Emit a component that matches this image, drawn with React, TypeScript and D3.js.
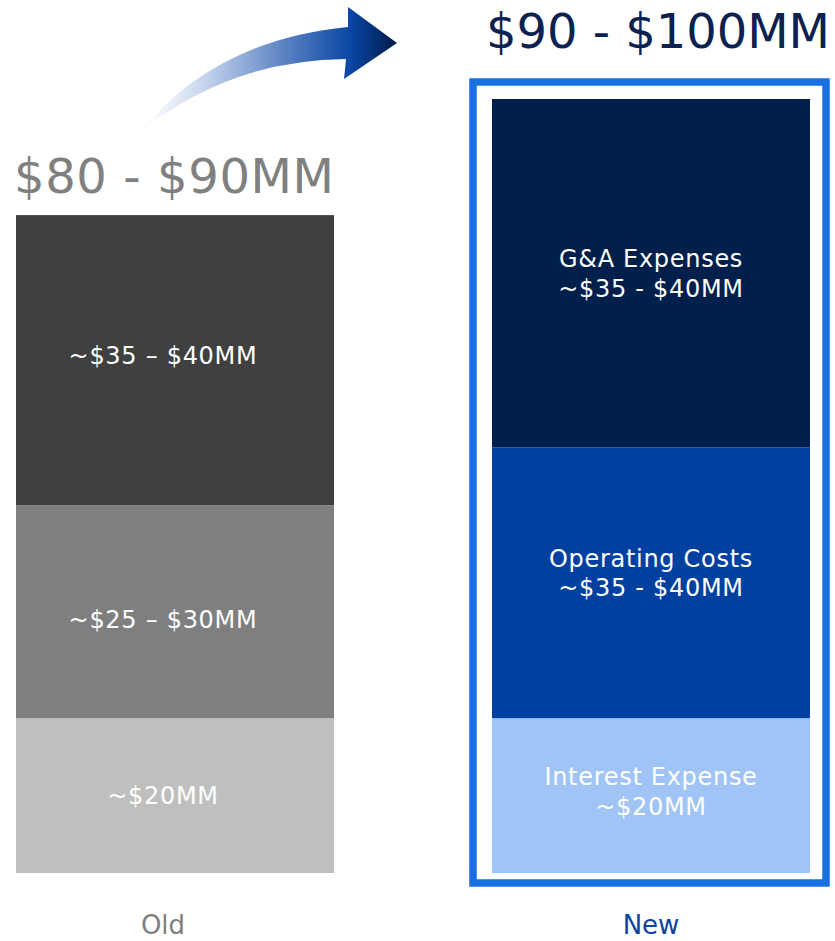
import React from "react";
import * as d3 from "d3";

const categories = ["Old", "New"];
const totalLabels = ["$80 - $90MM", "$90 - $100MM"];
// values stacked bottom -> top ($MM)
const oldValues = [20, 27.5, 37.5];
const newValues = [20, 35, 45];
const oldSegmentLabels = [["~$20MM"], ["~$25 – $30MM"], ["~$35 – $40MM"]];
const newSegmentLabels = [
  ["Interest Expense", "~$20MM"],
  ["Operating Costs", "~$35 - $40MM"],
  ["G&A Expenses", "~$35 - $40MM"],
];
const oldColors = ["#bfbfbf", "#7f7f7f", "#404040"];
const newColors = ["#a0c4f5", "#0041a0", "#001f4b"];

const W = 835;
const H = 941;
const FONT = "'DejaVu Sans', sans-serif";

export default function App() {
  const y = d3.scaleLinear().domain([0, 100]).range([873, 99]);
  const x = d3
    .scaleBand<string>()
    .domain(categories)
    .range([16, 810])
    .paddingInner(158 / 476)
    .paddingOuter(0);
  const bw = x.bandwidth();

  const series = [
    { cat: "Old", values: oldValues, labels: oldSegmentLabels, colors: oldColors, shift: -12, nudge: [0, 8, -4.5] },
    { cat: "New", values: newValues, labels: newSegmentLabels, colors: newColors, shift: 0, nudge: [-4, -10, 0] },
  ];

  const xNew = x("New")!;
  const newTotal = d3.sum(newValues);
  const oldTotal = d3.sum(oldValues);

  return (
    <svg
      width={W}
      height={H}
      style={{ position: "absolute", left: 0, top: 0, background: "#fff" }}
      fontFamily={FONT}
    >
      <defs>
        <linearGradient id="arrowGrad" x1="140" y1="0" x2="397" y2="0" gradientUnits="userSpaceOnUse">
          <stop offset="0" stopColor="#ffffff" stopOpacity="0.6" />
          <stop offset="0.25" stopColor="#c5d4ec" />
          <stop offset="0.55" stopColor="#5f86c4" />
          <stop offset="0.82" stopColor="#0a46a6" />
          <stop offset="1" stopColor="#001a46" />
        </linearGradient>
      </defs>

      {/* highlight border around the New bar */}
      <rect
        x={xNew - 19}
        y={y(newTotal) - 17}
        width={bw + 35}
        height={y(0) - y(newTotal) + 27}
        fill="none"
        stroke="#1a70e0"
        strokeWidth={7.5}
      />

      {series.map((s) => {
        const x0 = x(s.cat)!;
        const cum = d3.cumsum(s.values);
        return (
          <g key={s.cat}>
            {s.values.map((v, i) => {
              const top = y(cum[i]);
              const bot = y(cum[i] - v);
              const cy = (top + bot) / 2 + s.nudge[i];
              const lines = s.labels[i];
              const lh = 29.5;
              return (
                <g key={i}>
                  <rect x={x0} y={top} width={bw} height={bot - top} fill={s.colors[i]} />
                  {lines.map((t, j) => (
                    <text
                      key={j}
                      x={x0 + bw / 2 + s.shift}
                      y={cy + (j - (lines.length - 1) / 2) * lh}
                      dy="0.36em"
                      textAnchor="middle"
                      fill="#ffffff"
                      fontSize={24}
                      letterSpacing={0.7}
                    >
                      {t}
                    </text>
                  ))}
                </g>
              );
            })}
          </g>
        );
      })}

      {/* totals */}
      <text
        x={x("Old")! + bw / 2 - 1}
        y={y(oldTotal) - 22}
        textAnchor="middle"
        fill="#808080"
        fontSize={48}
        textLength={320}
        lengthAdjust="spacing"
      >
        {totalLabels[0]}
      </text>
      <text
        x={xNew + bw / 2 + 7}
        y={y(newTotal) - 51}
        textAnchor="middle"
        fill="#0b2150"
        fontSize={48}
        textLength={344}
        lengthAdjust="spacing"
      >
        {totalLabels[1]}
      </text>

      {/* category labels */}
      <text x={x("Old")! + bw / 2 - 12} y={934} textAnchor="middle" fill="#7f7f7f" fontSize={26}>
        {categories[0]}
      </text>
      <text x={xNew + bw / 2} y={934} textAnchor="middle" fill="#0a44a0" fontSize={26}>
        {categories[1]}
      </text>

      {/* curved arrow */}
      <path
        d="M 140 132 Q 215 40 348 27 L 348 7 L 397 43 L 344 79 L 346 59 Q 230 60 140 132 Z"
        fill="url(#arrowGrad)"
      />
    </svg>
  );
}
